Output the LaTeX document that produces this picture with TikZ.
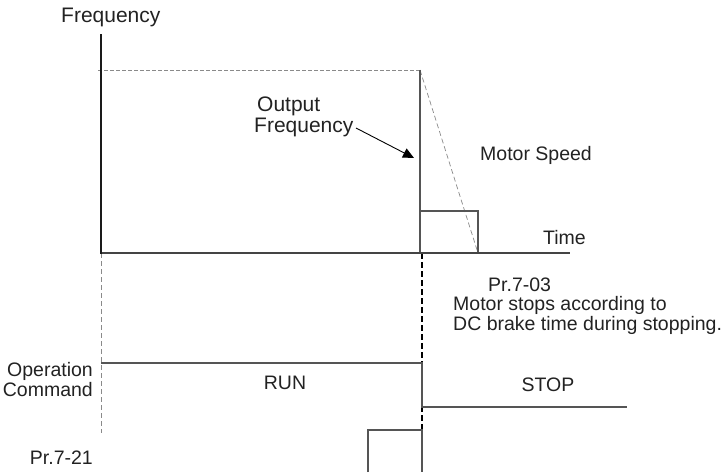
\documentclass[tikz,border=0pt]{standalone}
\usepackage{fontspec}
\setmainfont{Liberation Sans}
\usetikzlibrary{arrows.meta}
\definecolor{txtc}{HTML}{222222}
\definecolor{axc}{HTML}{1A1A1A}
\definecolor{hax}{HTML}{444444}
\definecolor{lnc}{HTML}{555555}
\definecolor{dsc}{HTML}{8A8A8A}
\begin{document}
\begin{tikzpicture}[x=1pt,y=-1pt,
  txt/.style={inner sep=0pt, text=txtc, font=\fontsize{19.5}{20}\selectfont},
  bigtxt/.style={txt, font=\fontsize{21}{20.5}\selectfont},
  vaxis/.style={line width=2.6pt, draw=axc},
  haxis/.style={line width=2.8pt, draw=hax},
  sig/.style={line width=1.5pt, draw=lnc},
  thinsig/.style={line width=1.1pt, draw=lnc},
  graydash/.style={line width=0.9pt, draw=dsc, dash pattern=on 5pt off 3pt},
  blackdash/.style={line width=1.1pt, draw=black, dash pattern=on 6pt off 3pt},
  pointer/.style={line width=0.9pt, draw=black, -{Triangle[length=11pt,width=10pt]}}]
\useasboundingbox (0,0) rectangle (727,472);

% coordinates
\coordinate (O) at (101,253);
\coordinate (Ytop) at (101,34);
\coordinate (Xend) at (570,253);
\coordinate (TL) at (98,70);
\coordinate (TR) at (420,70);
\coordinate (TB) at (420,253);
\coordinate (MS) at (478,253);
\coordinate (BoxTL) at (420,211);
\coordinate (LD) at (101,433);
\coordinate (RDtop) at (422,253);
\coordinate (RDbot) at (422,430);
\coordinate (RunL) at (101,363);
\coordinate (RunR) at (422,363);
\coordinate (StopL) at (422,407);
\coordinate (StopR) at (627,407);
\coordinate (PbL) at (368,472);
\coordinate (PbTL) at (368,430);
\coordinate (PbTR) at (422,430);
\coordinate (PbR) at (422,472);

% dashed guides
\draw[graydash] (O) -- (LD);
\draw[blackdash] (RDtop) -- (RDbot);

% top dashed output level and motor speed
\draw[graydash, dash pattern=on 4pt off 2pt] (TL) -- (TR);
\draw[graydash, line width=0.7pt] (TR) -- (MS);
% output frequency drop
\draw[sig] (TR) -- (TB);
% DC brake box
\draw[sig] (BoxTL) rectangle (MS);

% axes
\draw[haxis] (O) -- (Xend);
\draw[vaxis] (Ytop) -- ([yshift=-1.2pt]O);

% operation command
\draw[thinsig, line width=1.4pt] (RunL) -- (RunR) -- (StopL) -- (StopR);
% Pr.7-21 pulse
\draw[thinsig] (PbL) -- (PbTL) -- (PbTR) -- (PbR);

% texts
\node[bigtxt, anchor=west] (freq) at (61,17) {Frequency};
\node[bigtxt, anchor=west, align=left] (outf) at (254,117) {\hspace*{3pt}Output\\Frequency};
\coordinate (ArrS) at (356,128);
\coordinate (ArrE) at (414,158);
\draw[pointer] (ArrS) -- (ArrE);
\node[txt, anchor=west] (motor) at (480,155) {Motor Speed};
\node[txt, anchor=west] (time) at (543,238) {Time};
\node[txt, anchor=west] (pr703) at (488,285) {Pr.7-03};
\node[txt, anchor=west] (ms1) at (453,305) {Motor stops according to};
\node[txt, anchor=west] (ms2) at (453,325) {DC brake time during stopping.};
\node[txt, anchor=east, align=right] (opc) at (93,380) {Operation\\Command};
\node[txt] (run) at (285,383) {RUN};
\node[txt] (stop) at (548,385) {STOP};
\node[txt, anchor=east] (pr721) at (93,458) {Pr.7-21};
\end{tikzpicture}
\end{document}
